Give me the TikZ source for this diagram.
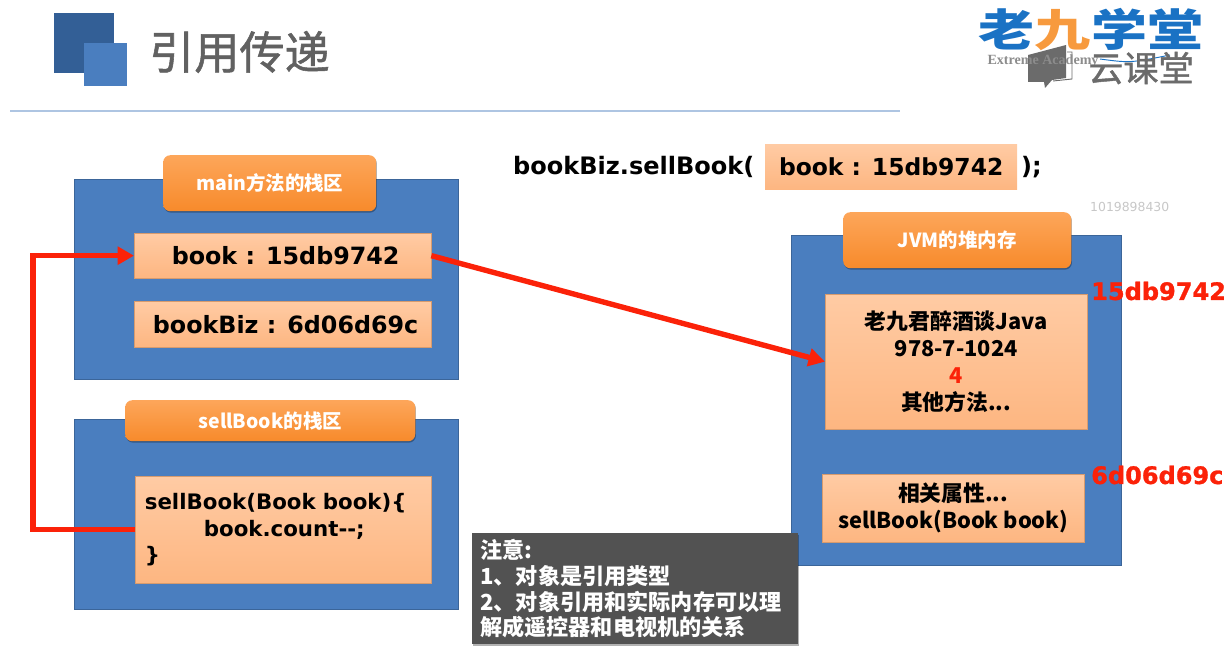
\documentclass[tikz,border=0pt]{standalone}
\usepackage{fontspec}
\usepackage{xcolor}
\usetikzlibrary{arrows.meta,calc,shadows}
\setmainfont{DejaVu Sans}
\newfontfamily\cjk{Noto Sans CJK SC}
\newfontfamily\cjkheavy[FakeBold=1.2]{Noto Sans CJK SC}
\newfontfamily\heavy[BoldFeatures={FakeBold=1.2}]{DejaVu Sans}
\newfontfamily\logoserif{Liberation Serif}
\newcommand{\px}[2][23]{\fontsize{#2}{#1}\selectfont}
\definecolor{panelblue}{HTML}{4A7EBF}
\definecolor{darkblue}{HTML}{335F96}
\definecolor{tanlight}{HTML}{FFCBA4}
\definecolor{tandark}{HTML}{FDB681}
\definecolor{orangelight}{HTML}{FDA65A}
\definecolor{orangedark}{HTML}{F78A2B}
\definecolor{arrowred}{HTML}{FB2209}
\definecolor{logoblue}{HTML}{1A72C4}
\definecolor{logoorange}{HTML}{F79A3E}
\tikzset{
    panel/.style={draw=panelblue!80!black,fill=panelblue,line width=0.5pt,anchor=north west},
    titlebar/.style={rounded corners=6pt,top color=orangelight,bottom color=orangedark,text=white,
        font=\cjk\bfseries\px{16.6},align=center,anchor=north west,inner sep=0pt,
        copy shadow={draw=none,fill=black,opacity=0.3,shadow xshift=0.6pt,shadow yshift=-1.2pt}},
    varbox/.style={top color=tanlight,bottom color=tandark,draw=tandark!85!black,line width=0.3pt,
        anchor=north west,inner sep=0pt,align=center,text=black},
    redline/.style={draw=arrowred,line width=4.6pt},
    redarrow/.style={redline,-{Triangle[width=15pt,length=14pt]}},
}
\begin{document}
\begin{tikzpicture}[x=0.03cm,y=-0.03cm]
    \useasboundingbox (0,0) rectangle (1227,648);

    % Heading
    \node[fill=darkblue,minimum width=1.8cm,minimum height=1.8cm,inner sep=0pt,anchor=north west] (iconback) at (54,13) {};
    \node[fill=panelblue,minimum width=1.29cm,minimum height=1.29cm,inner sep=0pt,anchor=north west] (iconfront) at (84,43) {};
    \node[anchor=west,text=black!62,inner sep=0pt,font=\cjkheavy\px{38.5}] (heading) at (149,52) {引用传递};
    \coordinate (ruleleft) at (10,111);
    \coordinate (ruleright) at (900,111);
    \draw[panelblue!45,line width=1pt] (ruleleft) -- (ruleright);

    % Logo
    \node[inner sep=0pt,xscale=1.04,yscale=0.82,font=\cjk\bfseries\px{46}] (logo) at (1091,30) {\textcolor{logoblue}{老}\textcolor{logoorange}{九}\textcolor{logoblue}{学堂}};
    \draw[logoblue,line width=0.8pt] (1100,59) .. controls (1130,63) .. (1170,55);
    \fill[black!58] (1028,55) -- (1066,45) -- (1066,78) -- (1052,80) -- (1045,88) -- (1044,82) -- (1028,82) -- cycle;
    \draw[black!58,line width=0.8pt] (1067,52) -- (1072,52) -- (1072,79) -- (1053,81);
    \node[inner sep=0pt,text=black!45,font=\logoserif\bfseries\px{12}] (academy) at (1043,61) {Extreme Academy};
    \node[inner sep=0pt,text=black!58,font=\cjkheavy\px{30}] (yunketang) at (1141,68) {云课堂};

    % Call
    \node[anchor=west,inner sep=0pt,font=\bfseries\px{20.5}] (callopen) at (513,167) {bookBiz.sellBook(};
    \node[varbox,draw=none,minimum width=7.56cm,minimum height=1.35cm,font=\bfseries\px{20}] (callarg) at (765,144) {book : 15db9742};
    \node[anchor=west,inner sep=0pt,font=\bfseries\px{20.5}] (callclose) at (1021,167) {);};
    \node[anchor=west,inner sep=0pt,text=black!22,font=\px{10.6}] (qqid) at (1090,207) {1019898430};

    % main stack
    \node[panel,minimum width=11.52cm,minimum height=6cm] (mainstack) at (74,179) {};
    \node[titlebar,minimum width=6.39cm,minimum height=1.68cm] (maintitle) at (163,155) {main方法的栈区};
    \node[varbox,minimum width=8.91cm,minimum height=1.35cm,font=\bfseries\px{20.3}] (bookvar) at (134,233) {\hspace*{5pt}book : 15db9742};
    \node[varbox,minimum width=8.91cm,minimum height=1.38cm,font=\bfseries\px{20.3}] (bizvar) at (134,301) {\hspace*{5pt}bookBiz : 6d06d69c};

    % sellBook stack
    \node[panel,minimum width=11.52cm,minimum height=5.7cm] (sellstack) at (74,419) {};
    \node[titlebar,minimum width=8.7cm,minimum height=1.23cm] (selltitle) at (125,400) {sellBook的栈区};
    \node[varbox,minimum width=8.88cm,minimum height=3.21cm,font=\bfseries\px{18.2},align=left,text width=8.3cm] (sellbody) at (135,476)
        {sellBook(Book book)\{\\\hspace*{1.77cm}book.count{-}{-};\\\}};

    % Heap
    \node[panel,minimum width=9.9cm,minimum height=9.9cm] (heap) at (791,235) {};
    \node[titlebar,minimum width=6.84cm,minimum height=1.68cm] (heaptitle) at (843,212) {JVM的堆内存};
    \node[varbox,minimum width=7.86cm,minimum height=4.05cm,font=\cjk\bfseries\px{18.6}] (bookobj) at (825,294)
        {老九君醉酒谈Java\\978-7-1024\\\textcolor{arrowred}{4}\\其他方法...};
    \node[varbox,minimum width=7.86cm,minimum height=2.04cm,font=\cjk\bfseries\px{18.6}] (bizobj) at (822,474)
        {相关属性...\\sellBook(Book book)};
    \node[inner sep=0pt,anchor=west,text=arrowred,font=\heavy\bfseries\px{20.5}] (bookaddr) at (1091,291) {15db9742};
    \node[inner sep=0pt,anchor=west,text=arrowred,font=\heavy\bfseries\px{20.5}] (bizaddr) at (1091,475) {6d06d69c};

    % Note
    \node[fill=black!68,text=white,anchor=north west,minimum width=9.78cm,minimum height=3.33cm,inner sep=0pt,
        text width=9.3cm,align=left,font={\cjk\bfseries\px[22]{18.9}},copy shadow={draw=none,fill=black,opacity=0.3,shadow xshift=1pt,shadow yshift=-1.2pt}] (note) at (472,533)
        {注意:\\1、对象是引用类型\\2、对象引用和实际内存可以理\\解成遥控器和电视机的关系};

    % Arrows
    \draw[redarrow] (bookvar.east) -- (bookobj.west);
    \draw[redarrow] (sellbody.west) -- ++(-102,0) |- (bookvar.west);
\end{tikzpicture}
\end{document}
